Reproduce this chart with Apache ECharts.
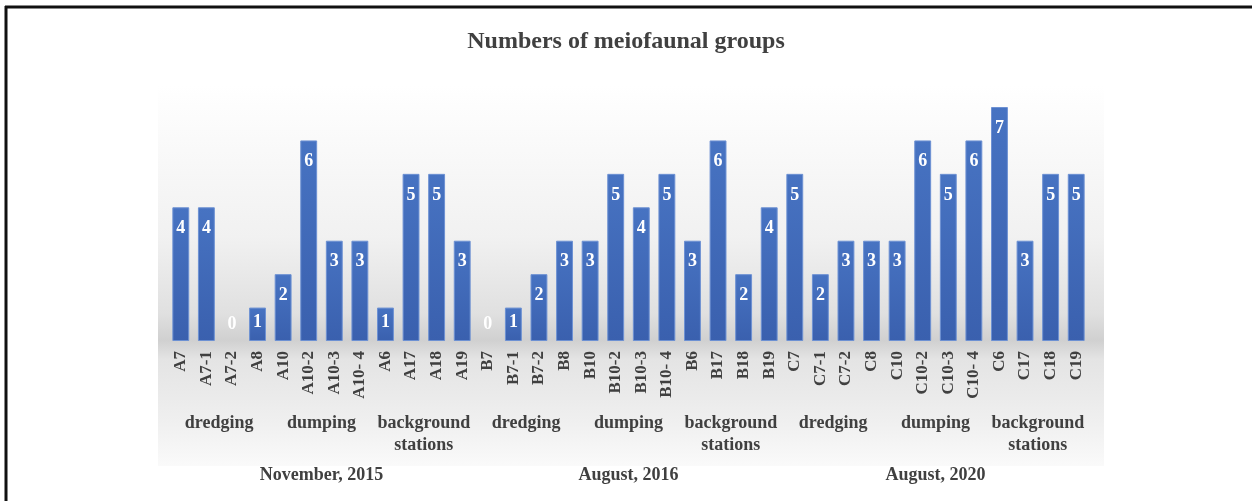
<!DOCTYPE html>
<html>
<head>
<meta charset="utf-8">
<title>Numbers of meiofaunal groups</title>
<script src="https://cdn.jsdelivr.net/npm/echarts@6/dist/echarts.min.js"></script>
<style>
  html, body { margin: 0; padding: 0; background: #fff; }
  #chart { width: 1252px; height: 501px; }
</style>
</head>
<body>
<div id="chart"></div>
<script>
// stations, in the order they are plotted
const stations = [
  'A7', 'A7-1', 'A7-2', 'A8', 'A10', 'A10-2', 'A10-3', 'A10- 4', 'A6', 'A17', 'A18', 'A19',
  'B7', 'B7-1', 'B7-2', 'B8', 'B10', 'B10-2', 'B10-3', 'B10- 4', 'B6', 'B17', 'B18', 'B19',
  'C7', 'C7-1', 'C7-2', 'C8', 'C10', 'C10-2', 'C10-3', 'C10- 4', 'C6', 'C17', 'C18', 'C19'
]
const groupCounts = [
  4, 4, 0, 1, 2, 6, 3, 3, 1, 5, 5, 3,
  0, 1, 2, 3, 3, 5, 4, 5, 3, 6, 2, 4,
  5, 2, 3, 3, 3, 6, 5, 6, 7, 3, 5, 5
]
const zones = [
  'dredging', 'dumping', 'background\nstations',
  'dredging', 'dumping', 'background\nstations',
  'dredging', 'dumping', 'background\nstations'
]
const surveys = ['November, 2015', 'August, 2016', 'August, 2020']

const serif = "'Liberation Serif', 'Times New Roman', serif"
const textGray = '#404040'

const chart = echarts.init(document.getElementById('chart'))

// empty stations get no outline, and their label sits just above the baseline
const barData = groupCounts.map(function(v) {
  if (v === 0) {
    return { value: v, itemStyle: { borderWidth: 0 }, label: { position: 'top', distance: 8 } }
  }
  if (v === 1) {
    return { value: v, label: { distance: 6 } }
  }
  return v
})

chart.setOption({
  animation: false,
  title: {
    text: 'Numbers of meiofaunal groups',
    left: 'center',
    top: 25,
    textStyle: {
      color: textGray,
      fontFamily: serif,
      fontWeight: 'bold',
      fontSize: 24
    }
  },
  graphic: [
    {
      // soft grey backdrop behind the plot
      type: 'rect',
      z: -10,
      shape: { x: 158, y: 85, width: 946, height: 381 },
      style: {
        fill: new echarts.graphic.LinearGradient(0, 0, 0, 1, [
          { offset: 0, color: '#ffffff' },
          { offset: 0.4, color: '#f1f1f1' },
          { offset: 0.6, color: '#e0e0e0' },
          { offset: 0.67, color: '#d0d0d0' },
          { offset: 0.72, color: '#e4e4e4' },
          { offset: 0.88, color: '#efefef' },
          { offset: 1, color: '#fafafa' }
        ])
      }
    },
    {
      type: 'line',
      shape: { x1: 5, y1: 7, x2: 1252, y2: 7 },
      style: { stroke: '#111', lineWidth: 3 }
    },
    {
      type: 'line',
      shape: { x1: 6, y1: 6, x2: 6, y2: 501 },
      style: { stroke: '#111', lineWidth: 3 }
    }
  ],
  grid: {
    left: 168,
    right: 163,
    top: 107,
    bottom: 160,
    containLabel: false
  },
  xAxis: [
    {
      type: 'category',
      data: stations,
      axisLine: { show: false },
      axisTick: { show: false },
      axisLabel: {
        interval: 0,
        rotate: 90,
        margin: 10,
        color: textGray,
        fontFamily: serif,
        fontWeight: 'bold',
        fontSize: 17
      }
    },
    {
      type: 'category',
      data: zones,
      position: 'bottom',
      offset: 63,
      axisLine: { show: false },
      axisTick: { show: false },
      axisLabel: {
        interval: 0,
        margin: 8,
        color: textGray,
        fontFamily: serif,
        fontWeight: 'bold',
        fontSize: 18,
        lineHeight: 22
      }
    },
    {
      type: 'category',
      data: surveys,
      position: 'bottom',
      offset: 117,
      axisLine: { show: false },
      axisTick: { show: false },
      axisLabel: {
        interval: 0,
        margin: 8,
        color: textGray,
        fontFamily: serif,
        fontWeight: 'bold',
        fontSize: 18
      }
    }
  ],
  yAxis: {
    type: 'value',
    min: 0,
    max: 7,
    show: false,
    splitLine: { show: false }
  },
  series: [
    {
      type: 'bar',
      xAxisIndex: 0,
      data: barData,
      barCategoryGap: '34%',
      itemStyle: {
        color: new echarts.graphic.LinearGradient(0, 0, 0, 1, [
          { offset: 0, color: '#4773c2' },
          { offset: 1, color: '#3a60ae' }
        ]),
        borderColor: '#6d91d3',
        borderWidth: 1
      },
      label: {
        show: true,
        position: 'insideTop',
        distance: 12,
        color: '#fff',
        fontFamily: serif,
        fontWeight: 'bold',
        fontSize: 18
      }
    }
  ]
})
</script>
</body>
</html>
